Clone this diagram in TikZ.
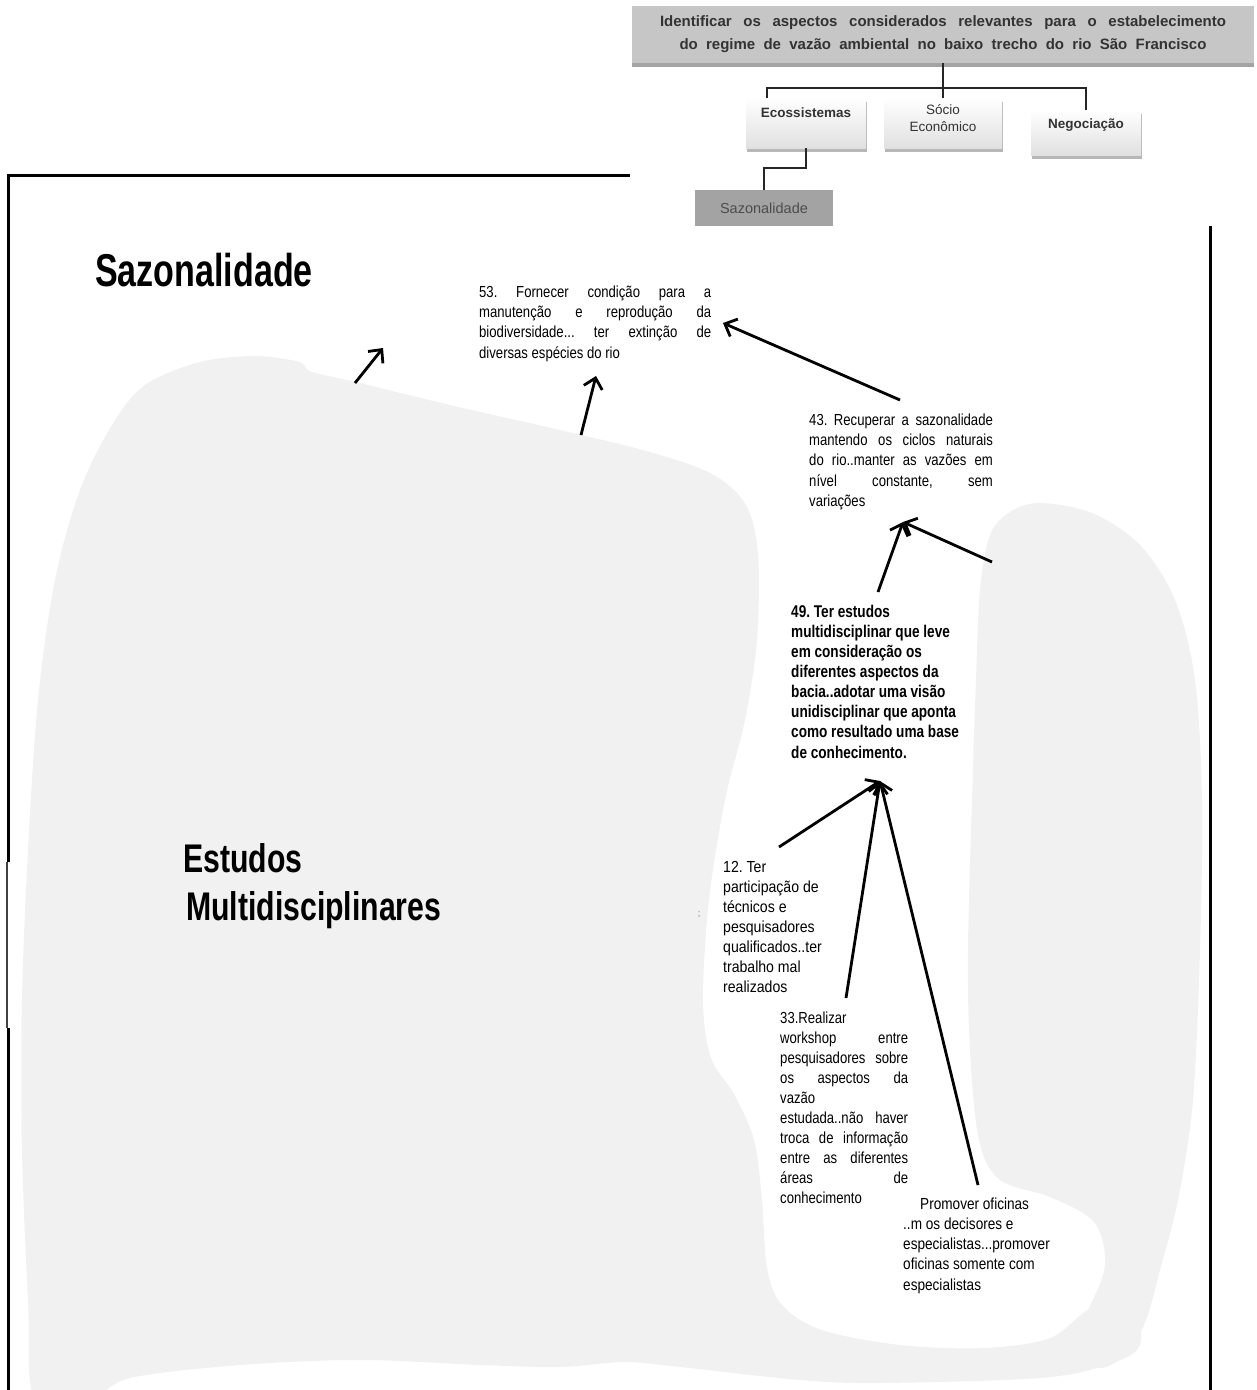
\documentclass[tikz,border=0pt]{standalone}
\usepackage{fontspec}
\setmainfont{Liberation Sans}
\usepackage{graphicx}
\usepackage{xcolor}
\usetikzlibrary{arrows.meta,positioning,shadows}

\definecolor{blobgray}{RGB}{241,241,241}
\definecolor{headgray}{RGB}{198,198,198}
\definecolor{sazgray}{RGB}{163,163,163}
\definecolor{inkgray}{RGB}{51,51,51}

\newcommand{\narrowpar}[3]{\scalebox{#1}[1]{\parbox[t]{#2}{\sloppy\frenchspacing #3}}}

\tikzset{
  arr/.style={line width=2.8pt, -{Straight Barb[length=10pt,width=19pt]}},
  frame/.style={line width=3pt, black},
  tree/.style={line width=2pt, black!85},
  blob/.style={fill=blobgray, draw=none},
  txt/.style={anchor=base west, inner sep=0pt, font=\fontsize{16}{20.4}\selectfont},
  headbox/.style={fill=headgray, minimum width=622pt, minimum height=57pt, inner sep=0pt,
    align=center, text=inkgray, font=\fontsize{15}{23}\selectfont\bfseries,
    drop shadow={shadow xshift=0pt, shadow yshift=-4pt, fill=black!45, opacity=0.8}},
  childbox/.style={top color=white, bottom color=black!12, inner sep=0pt,
    drop shadow={shadow xshift=1pt, shadow yshift=-4pt, fill=black!35, opacity=0.8}},
  boxlabel/.style={inner sep=0pt, text=inkgray, font=\fontsize{13.5}{17}\selectfont, align=center},
  sazbox/.style={fill=sazgray, minimum width=138pt, minimum height=36pt, inner sep=0pt,
    text=black!70, font=\fontsize{14.5}{17}\selectfont}
}

\begin{document}
\begin{tikzpicture}[x=1pt, y=-1pt]
    \useasboundingbox (0,0) rectangle (1257,1390);

    % grey background shapes
    \fill[blob] plot[smooth cycle, tension=0.55] coordinates {
      (35,1400) (28,1300) (22,1150) (22,1000) (28,850) (38,700) (55,580) (80,490)
      (112,425) (145,385) (200,362) (255,356) (296,361) (305,366) (312,372) (360,383)
      (450,405) (560,430) (650,452) (712,474) (746,505) (758,555) (757,640) (745,720)
      (725,800) (709,900) (703,1000) (711,1058) (734,1094) (754,1140) (762,1200)
      (767,1268) (782,1305) (822,1330) (900,1345) (985,1348) (1050,1338) (1088,1310)
      (1130,1298) (1140,1345) (1106,1365) (1040,1378) (880,1383) (800,1380) (680,1367)
      (625,1362) (560,1367) (480,1365) (360,1360) (240,1365) (130,1378) (90,1400)};
    \fill[blob] plot[smooth cycle, tension=0.55] coordinates {
      (1040,503) (1092,513) (1140,545) (1175,600) (1195,680) (1202,800) (1200,950)
      (1193,1100) (1178,1200) (1160,1270) (1146,1320) (1128,1352) (1100,1368)
      (1065,1352) (1088,1310) (1105,1265) (1094,1222) (1050,1197) (1000,1180)
      (979,1140) (970,1050) (968,950) (972,800) (976,680) (980,590) (990,535) (1010,512)};

    % frame
    \draw[frame] (8,1395) -- (8,175) -- (1210,175) -- (1210,1395);
    \fill[white] (4,862) rectangle (12,1028);
    \draw[line width=1.4pt, black!75] (7,862) -- (7,1028);

    % inset: hierarchy
    \fill[white] (630,-5) rectangle (1262,226);
    \node[headbox] (head) at (943,34)
      {\makebox[566pt][s]{Identificar os aspectos considerados relevantes para o estabelecimento}\\
       \makebox[527pt][s]{do regime de vazão ambiental no baixo trecho do rio São Francisco}};
    \node[childbox, minimum width=120pt, minimum height=50pt] (eco) at (806,123) {};
    \node[childbox, minimum width=118pt, minimum height=50pt] (soc) at (943,123) {};
    \node[childbox, minimum width=110pt, minimum height=45pt] (neg) at (1086,132.5) {};
    \node[sazbox] (saz) at (764,208) {Sazonalidade};
    \node[boxlabel, anchor=base, font=\fontsize{13.5}{17}\selectfont\bfseries] (ecolabel) at (806,117) {Ecossistemas};
    \node[boxlabel, anchor=north] (soclabel) at (943,104) {Sócio\\Econômico};
    \node[boxlabel, anchor=base, font=\fontsize{13.5}{17}\selectfont\bfseries] (neglabel) at (1086,128) {Negociação};

    \coordinate (bus) at (943,88);
    \coordinate (ecoin) at (767,98);
    \draw[tree] (head.south) -- (bus);
    \draw[tree] (bus) -| (ecoin);
    \draw[tree] (bus) -- (soc.north);
    \draw[tree] (bus) -| (neg.north);
    \draw[tree] (eco.south) -- ++(0,20) -| (saz.north);

    % titles
    \node[txt, font=\fontsize{46}{50}\selectfont\bfseries] (tsaz) at (95,286) {\scalebox{0.74}[1]{Sazonalidade}};
    \node[txt, font=\fontsize{40}{48}\selectfont\bfseries] (testudos) at (183,872)
      {\narrowpar{0.755}{420pt}{\raggedright Estudos\\ \hspace*{4pt}Multidisciplinares}};

    % statements
    \node[txt] (n53) at (479,297) {\narrowpar{0.82}{283pt}{53. Fornecer condição para a\linebreak
      manutenção e reprodução da\linebreak biodiversidade... ter extinção de\linebreak
      diversas espécies do rio}};
    \node[txt] (n43) at (809,425) {\narrowpar{0.82}{224pt}{43. Recuperar a sazonalidade\linebreak
      mantendo os ciclos naturais\linebreak do rio..manter as vazões em\linebreak
      nível constante, sem\linebreak variações}};
    \node[txt, font=\fontsize{17}{20.15}\selectfont\bfseries] (n49) at (791,617)
      {\narrowpar{0.8}{260pt}{\raggedright 49. Ter estudos\\ multidisciplinar que leve\\
      em consideração os\\ diferentes aspectos da\\ bacia..adotar uma visão\\
      unidisciplinar que aponta\\ como resultado uma base\\ de conhecimento.}};
    \node[txt, font=\fontsize{16}{20.15}\selectfont] (n12) at (723,872)
      {\narrowpar{0.88}{200pt}{\raggedright 12. Ter\\ participação de\\ técnicos e\\
      pesquisadores\\ qualificados..ter\\ trabalho mal\\ realizados}};
    \node[txt, font=\fontsize{16}{20.1}\selectfont] (n33) at (780,1023)
      {\narrowpar{0.82}{156pt}{33.Realizar\newline workshop entre\linebreak
      pesquisadores sobre\linebreak os aspectos da\linebreak vazão\newline
      estudada..não haver\linebreak troca de informação\linebreak
      entre as diferentes\linebreak áreas de\linebreak conhecimento}};
    \node[txt, font=\fontsize{16}{20.25}\selectfont] (npro) at (903,1209)
      {\narrowpar{0.85}{220pt}{\raggedright\hspace*{20pt}Promover oficinas\\
      ..m os decisores e\\ especialistas...promover\\ oficinas somente com\\ especialistas}};
    \node[inner sep=0pt, text=black!55, font=\fontsize{9}{9}\selectfont] (semi) at (699,915) {;};

    % arrows
    \coordinate (from1) at (355,383);  \coordinate (to1) at (383,348);
    \coordinate (from2) at (581,435);  \coordinate (to2) at (596,376);
    \coordinate (from3) at (900,400);  \coordinate (to3) at (723,323);
    \coordinate (from4) at (992,562);  \coordinate (to4) at (903,522);
    \coordinate (from5) at (878,592);
    \coordinate (from6) at (779,847);  \coordinate (to6) at (880,781);
    \coordinate (from7) at (846,998);  \coordinate (from8) at (978,1185);
    \draw[arr] (from1) -- (to1);
    \draw[arr] (from2) -- (to2);
    \draw[arr] (from3) -- (to3);
    \draw[arr] (from4) -- (to4);
    \draw[arr] (from5) -- (to4);
    \draw[arr] (from6) -- (to6);
    \draw[arr] (from7) -- (to6);
    \draw[arr] (from8) -- (to6);
\end{tikzpicture}
\end{document}
